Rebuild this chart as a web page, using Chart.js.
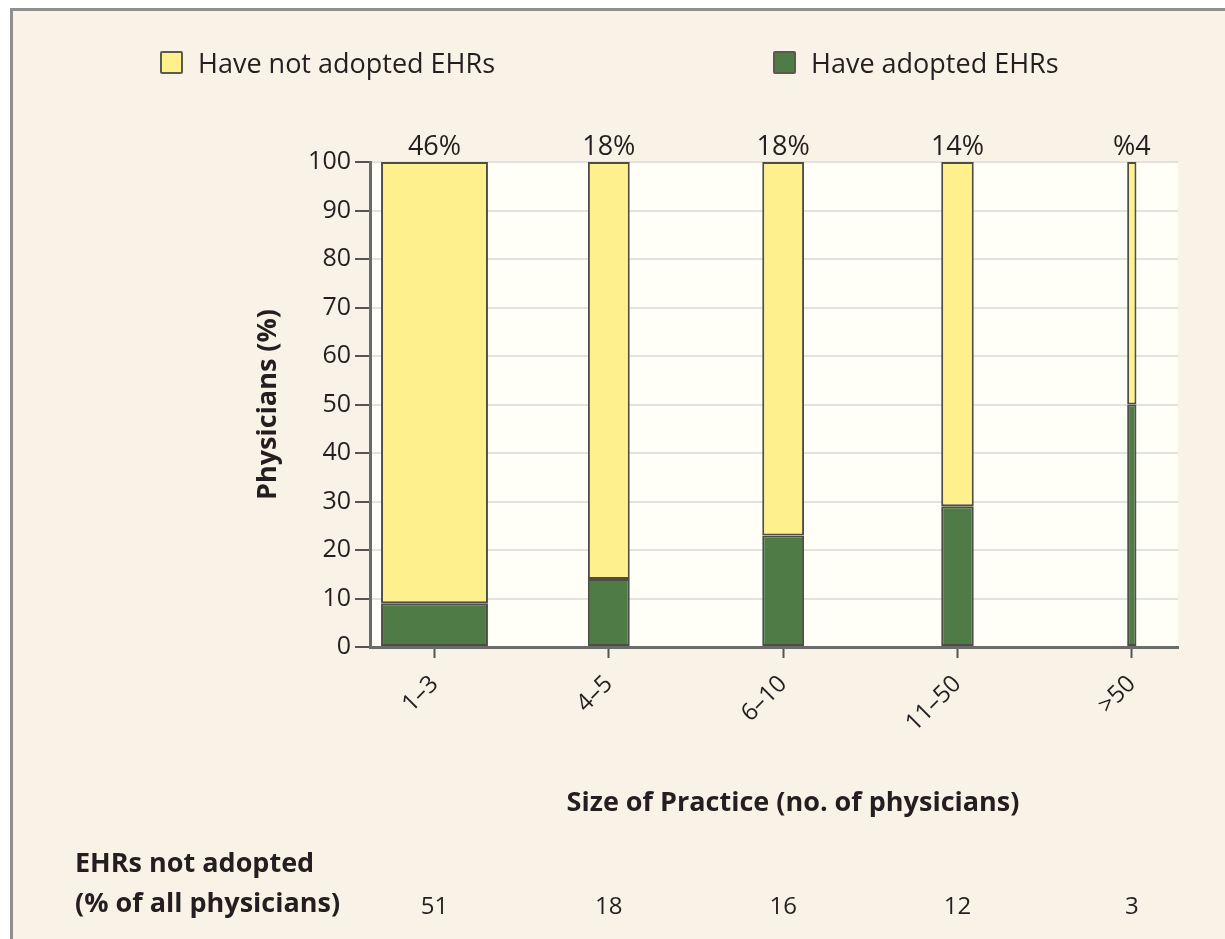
<!DOCTYPE html>
<html>
<head>
<meta charset="utf-8">
<title>EHR adoption by size of practice</title>
<script src="https://cdn.jsdelivr.net/npm/chart.js@4.4.1/dist/chart.umd.min.js"></script>
<style>
  html, body { margin: 0; padding: 0; background: #fff; overflow: hidden; }
  #frame {
    position: absolute; left: 10px; top: 8px; width: 1400px; height: 1100px;
    border-top: 3px solid #8f8f8f; border-left: 3px solid #8f8f8f;
    background: #f9f2e6;
  }
  #chart { position: absolute; left: 0; top: 0; }
  .legend-item {
    position: absolute; top: 44px; display: flex; align-items: center;
    font: 27px "Open Sans", sans-serif; color: #231f20; white-space: nowrap;
  }
  .legend-item .box {
    width: 19px; height: 19px; border: 2px solid #5a5a50; border-radius: 2px;
    margin-right: 15px;
  }
</style>
</head>
<body>
<div id="frame"></div>
<canvas id="chart" width="1225" height="939"></canvas>
<div class="legend-item" style="left:160px"><span class="box" style="background:#fdf08d"></span>Have not adopted EHRs</div>
<div class="legend-item" style="left:773px"><span class="box" style="background:#4f7c46"></span>Have adopted EHRs</div>
<script>
// practice size groups and the share of physicians in each group
const categories = ["1–3", "4–5", "6–10", "11–50", ">50"];
const adopted = [9, 14, 23, 29, 50];
const notAdopted = [91, 86, 77, 71, 50];
const sharePct = [46, 18, 18, 14, 4];
const shareLabels = ["46%", "18%", "18%", "14%", "%4"];
const notAdoptedAll = [51, 18, 16, 12, 3];

const YELLOW = "#fdf08d";
const GREEN = "#4f7c46";
const EDGE = "#4d4d45";
const INK = "#231f20";
const FONT = '"Open Sans", sans-serif';

Chart.defaults.font.family = FONT;
Chart.defaults.color = INK;

// one pair of stacked datasets per group, so each bar can get its own width
const datasets = [];
categories.forEach((c, i) => {
  const common = {
    stack: "s",
    grouped: false,
    categoryPercentage: 1,
    barPercentage: sharePct[i] / 75,
    borderColor: EDGE,
    borderWidth: 2,
    borderSkipped: false,
  };
  datasets.push({ ...common, label: "Have adopted EHRs", data: [{ x: i, y: adopted[i] }], backgroundColor: GREEN });
  datasets.push({ ...common, label: "Have not adopted EHRs", data: [{ x: i, y: notAdopted[i] }], backgroundColor: YELLOW });
});

const decor = {
  id: "decor",
  beforeDraw(chart) {
    const { ctx, chartArea: a } = chart;
    ctx.save();
    ctx.fillStyle = "#fffef7";
    ctx.fillRect(a.left, a.top, a.right - a.left, a.bottom - a.top);
    ctx.restore();
  },
  afterDraw(chart) {
    const { ctx, chartArea: a, scales } = chart;
    const x = scales.x;
    ctx.save();
    ctx.fillStyle = INK;

    // share of physicians above each bar
    ctx.font = `27px ${FONT}`;
    ctx.textAlign = "center";
    ctx.textBaseline = "alphabetic";
    shareLabels.forEach((t, i) => ctx.fillText(t, x.getPixelForValue(i), a.top - 7));

    // y title
    ctx.font = `bold 27px ${FONT}`;
    ctx.save();
    ctx.translate(268, (a.top + a.bottom) / 2);
    ctx.rotate(-Math.PI / 2);
    ctx.textBaseline = "middle";
    ctx.fillText("Physicians (%)", 0, 0);
    ctx.restore();

    // x title
    ctx.textBaseline = "middle";
    ctx.fillText("Size of Practice (no. of physicians)", 793, 803);

    // bottom table row
    ctx.textAlign = "left";
    ctx.fillText("EHRs not adopted", 75, 864);
    ctx.fillText("(% of all physicians)", 75, 904);
    ctx.font = `24px ${FONT}`;
    ctx.textAlign = "center";
    notAdoptedAll.forEach((v, i) => ctx.fillText(String(v), x.getPixelForValue(i), 907));
    ctx.restore();
  },
};

new Chart(document.getElementById("chart"), {
  type: "bar",
  data: { datasets },
  options: {
    responsive: false,
    animation: false,
    layout: { padding: { left: 10, right: 47, top: 162, bottom: 162 } },
    plugins: { legend: { display: false }, tooltip: { enabled: false } },
    scales: {
      x: {
        type: "linear",
        offset: false,
        min: -0.37,
        max: 4.265,
        afterFit: (s) => { s.height = 130; },
        grid: { offset: false, drawOnChartArea: false, drawTicks: true, tickLength: 11, tickColor: "#555", tickWidth: 2 },
        border: { color: "#6b6b6b", width: 3 },
        ticks: {
          stepSize: 1,
          includeBounds: false,
          autoSkip: false,
          minRotation: 45,
          maxRotation: 45,
          padding: 12,
          font: { size: 24 },
          color: INK,
          callback: (v) => categories[v] ?? "",
        },
      },
      y: {
        stacked: true,
        min: 0,
        max: 100,
        afterFit: (s) => { s.width = 360; },
        grid: { color: "#e3e2dc", lineWidth: 2, tickLength: 15, tickColor: "#555", tickWidth: 2 },
        border: { color: "#6b6b6b", width: 3 },
        ticks: { stepSize: 10, padding: 4, font: { size: 25 }, color: INK },
      },
    },
  },
  plugins: [decor],
});
</script>
</body>
</html>
